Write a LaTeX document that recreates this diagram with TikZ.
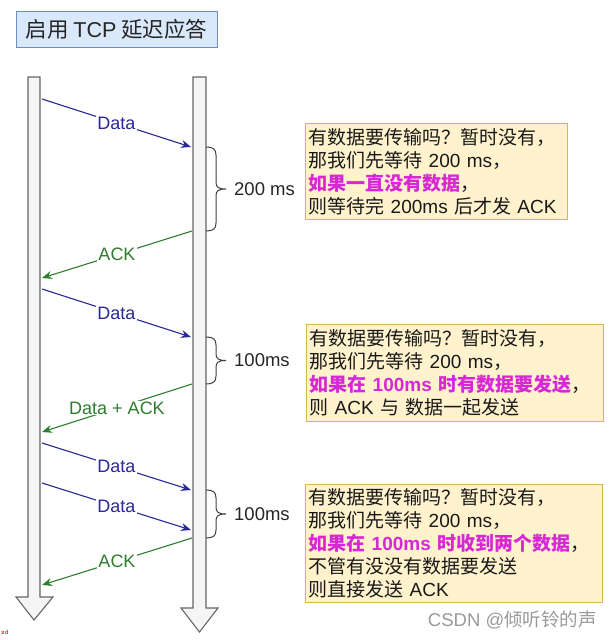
\documentclass[tikz,border=0pt]{standalone}
\usepackage{fontspec}
\setmainfont{Noto Sans CJK SC}
\newfontfamily\latf{Liberation Sans}
\newcommand\LS[1]{{\latf #1}}
\usetikzlibrary{arrows.meta}
\definecolor{navy}{RGB}{40,40,150}
\definecolor{ackgreen}{RGB}{46,125,46}
\definecolor{mag}{RGB}{214,40,214}
\definecolor{notefill}{RGB}{255,242,204}
\definecolor{notedraw}{RGB}{214,182,86}
\definecolor{titlefill}{RGB}{218,232,252}
\definecolor{titledraw}{RGB}{108,142,191}
\definecolor{lanefill}{RGB}{245,245,245}
\definecolor{lanedraw}{RGB}{102,102,102}
\begin{document}
\begin{tikzpicture}[x=1pt,y=-1pt,
  lane/.style={fill=lanefill,draw=lanedraw,line width=1.1pt,line join=miter},
  msg/.style={line width=1.1pt,-{Stealth[length=10pt,width=8pt]}},
  datamsg/.style={msg,draw=navy},
  ackmsg/.style={msg,draw=ackgreen},
  lbl/.style={fill=white,inner sep=1pt,font=\latf\fontsize{18}{20}\selectfont},
  note/.style={draw=notedraw,fill=notefill,line width=0.8pt,anchor=north west,
    inner xsep=3pt,inner ysep=0pt,align=left,
    font=\fontsize{19}{23}\selectfont,text=black!90},
  bracestyle/.style={draw=black!75,line width=1pt},
  blbl/.style={anchor=west,inner sep=0pt,font=\latf\fontsize{18.5}{20}\selectfont,text=black!85}]
\useasboundingbox (0,0) rectangle (613,640);
% title
\node[draw=titledraw,fill=titlefill,line width=1pt,minimum width=201pt,minimum height=36pt,
  inner sep=0pt,font=\fontsize{21.5}{24}\selectfont,text=black!85] (title) at (116.5,29) {启用 \LS{TCP} 延迟应答};
% lifelines
\draw[lane] (28,77) -- (40,77) -- (40,597) -- (53,597) -- (34,620) -- (16,597) -- (28,597) -- cycle;
\draw[lane] (193,77) -- (206,77) -- (206,608) -- (218,608) -- (199.5,632) -- (181,608) -- (193,608) -- cycle;
% endpoints
\coordinate (a1) at (42,99);   \coordinate (b1) at (191,147);
\coordinate (b2) at (192,231); \coordinate (a2) at (42,278);
\coordinate (a3) at (42,289);  \coordinate (b3) at (191,337);
\coordinate (b4) at (192,384); \coordinate (a4) at (42,432);
\coordinate (a5) at (42,443);  \coordinate (b5) at (191,490);
\coordinate (a6) at (42,483);  \coordinate (b6) at (191,530);
\coordinate (b7) at (192,538); \coordinate (a7) at (42,585);
\draw[datamsg] (a1) -- node[lbl,text=navy] (l1) {Data} (b1);
\draw[ackmsg] (b2) -- node[lbl,text=ackgreen] (l2) {ACK} (a2);
\draw[datamsg] (a3) -- node[lbl,text=navy] (l3) {Data} (b3);
\draw[ackmsg] (b4) -- node[lbl,text=ackgreen] (l4) {Data + ACK} (a4);
\draw[datamsg] (a5) -- node[lbl,text=navy] (l5) {Data} (b5);
\draw[datamsg] (a6) -- node[lbl,text=navy] (l6) {Data} (b6);
\draw[ackmsg] (b7) -- node[lbl,text=ackgreen] (l7) {ACK} (a7);
% braces
\foreach \t/\b/\n/\txt in {147/231/t1/200 ms, 337/384/t2/100ms, 490/538/t3/100ms}{
  \pgfmathsetmacro\m{(\t+\b)/2}
  \draw[bracestyle] (206,\t) .. controls (213,\t) and (216,\t+2) .. (216,\t+8)
    -- (216,\m-7) .. controls (216,\m-2) and (218,\m) .. (226,\m)
    .. controls (218,\m) and (216,\m+2) .. (216,\m+7)
    -- (216,\b-8) .. controls (216,\b-2) and (213,\b) .. (206,\b);
  \node[blbl] (\n) at (234,\m) {\txt};
}
% notes
\node[note,minimum width=262pt,minimum height=96pt,text width=256pt] (n1) at (305,123)
  {有数据要传输吗？暂时没有，\\那我们先等待 \LS{200 ms}，\\{\color{mag}\bfseries 如果一直没有数据}，\\则等待完 \LS{200ms} 后才发 \LS{ACK}};
\node[note,minimum width=297pt,minimum height=97pt,text width=291pt] (n2) at (306,324)
  {有数据要传输吗？暂时没有，\\那我们先等待 \LS{200 ms}，\\{\color{mag}\bfseries 如果在 \LS{100ms} 时有数据要发送}，\\则 \LS{ACK} 与 数据一起发送};
\node[note,minimum width=297pt,minimum height=118pt,text width=291pt] (n3) at (305,484)
  {有数据要传输吗？暂时没有，\\那我们先等待 \LS{200 ms}，\\{\color{mag}\bfseries 如果在 \LS{100ms} 时收到两个数据}，\\不管有没没有数据要发送\\则直接发送 \LS{ACK}};
% watermark
\node[anchor=east,inner sep=1pt,text=black!40,font=\fontsize{18.5}{20}\selectfont] (wm) at (598,620) {\LS{CSDN @}倾听铃的声};
\node[anchor=west,inner sep=0pt,text=red!80!black,font=\ttfamily\fontsize{7}{8}\selectfont] (sd) at (1,632) {sd};
\end{tikzpicture}
\end{document}
